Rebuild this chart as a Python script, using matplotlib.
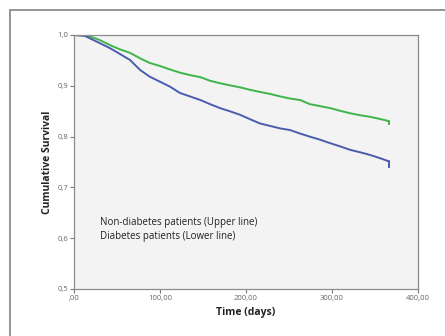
import matplotlib.pyplot as plt
from matplotlib.patches import Rectangle
from matplotlib.ticker import FuncFormatter

# Kaplan-Meier curves (days, cumulative survival)
days_nd = [0, 10, 19, 30, 42, 53, 65, 77, 88, 100, 112, 123, 135, 147, 158, 170,
           181, 193, 205, 216, 228, 240, 251, 263, 274, 286, 298, 309, 321, 333,
           344, 355, 365, 366]
surv_nd = [1.0, 0.999, 0.997, 0.990, 0.980, 0.972, 0.965, 0.954, 0.945, 0.939,
           0.932, 0.926, 0.921, 0.917, 0.910, 0.905, 0.901, 0.897, 0.892, 0.888,
           0.884, 0.879, 0.875, 0.872, 0.864, 0.860, 0.856, 0.851, 0.846, 0.842,
           0.839, 0.835, 0.831, 0.824]

days_d = [0, 8, 13, 19, 30, 42, 53, 65, 71, 77, 88, 100, 112, 123, 135, 147,
          158, 170, 181, 193, 205, 216, 228, 240, 251, 263, 274, 286, 298, 309,
          321, 333, 344, 355, 365, 366]
surv_d = [1.0, 0.999, 0.998, 0.993, 0.984, 0.974, 0.963, 0.951, 0.941, 0.931,
          0.918, 0.908, 0.898, 0.886, 0.879, 0.872, 0.864, 0.856, 0.850, 0.843,
          0.834, 0.826, 0.821, 0.816, 0.813, 0.806, 0.800, 0.794, 0.787, 0.781,
          0.774, 0.769, 0.764, 0.758, 0.752, 0.741]

x_ticks = [0, 100, 200, 300, 400]
y_ticks = [0.5, 0.6, 0.7, 0.8, 0.9, 1.0]

plt.rcParams['font.family'] = ['Open Sans', 'DejaVu Sans']

fig = plt.figure(figsize=(4.45, 3.36), dpi=100)
fig.patch.set_facecolor('white')
fig.patches.append(Rectangle((10 / 445, -0.1), 1.2, 1 - 10 / 336 + 0.1,
                             transform=fig.transFigure, fill=False,
                             edgecolor='#8c8c8c', lw=1.3))

ax = fig.add_axes([74 / 445, 1 - 289 / 336, 344 / 445, 254 / 336])
ax.set_facecolor('#f3f3f3')

# many tiny steps in the original, so plain segments look closer
ax.plot(days_nd[:-1], surv_nd[:-1], color='#3db54a', lw=1.4)
ax.plot(days_nd[-2:], [surv_nd[-2], surv_nd[-1]], color='#3db54a', lw=1.4,
        drawstyle='steps-post')
ax.plot(days_d[:-1], surv_d[:-1], color='#4a5cae', lw=1.4)
ax.plot(days_d[-2:], [surv_d[-2], surv_d[-1]], color='#4a5cae', lw=1.4,
        drawstyle='steps-post')

ax.set_xlim(0, 400)
ax.set_ylim(0.5, 1.0)
ax.set_xticks(x_ticks)
ax.set_yticks(y_ticks)
ax.xaxis.set_major_formatter(FuncFormatter(
    lambda v, p: ',00' if v == 0 else f'{v:.2f}'.replace('.', ',')))
ax.yaxis.set_major_formatter(FuncFormatter(
    lambda v, p: f'{v:.1f}'.replace('.', ',')))
ax.tick_params(direction='out', length=3, width=0.8, color='#777777',
               labelsize=5.5, labelcolor='#666666', pad=1)
for s in ax.spines.values():
    s.set_color('#8c8c8c')
    s.set_linewidth(0.9)

ax.set_xlabel('Time (days)', fontsize=7.5, fontweight='bold', color='#222222',
              labelpad=4)
ax.set_ylabel('Cumulative Survival', fontsize=7.5, fontweight='bold',
              color='#222222', labelpad=3)

ax.text(0.077, 0.26, 'Non-diabetes patients (Upper line)', transform=ax.transAxes,
        fontsize=7, color='#222222', va='center')
ax.text(0.077, 0.205, 'Diabetes patients (Lower line)', transform=ax.transAxes,
        fontsize=7, color='#222222', va='center')

fig.savefig('out.png', dpi=100)
